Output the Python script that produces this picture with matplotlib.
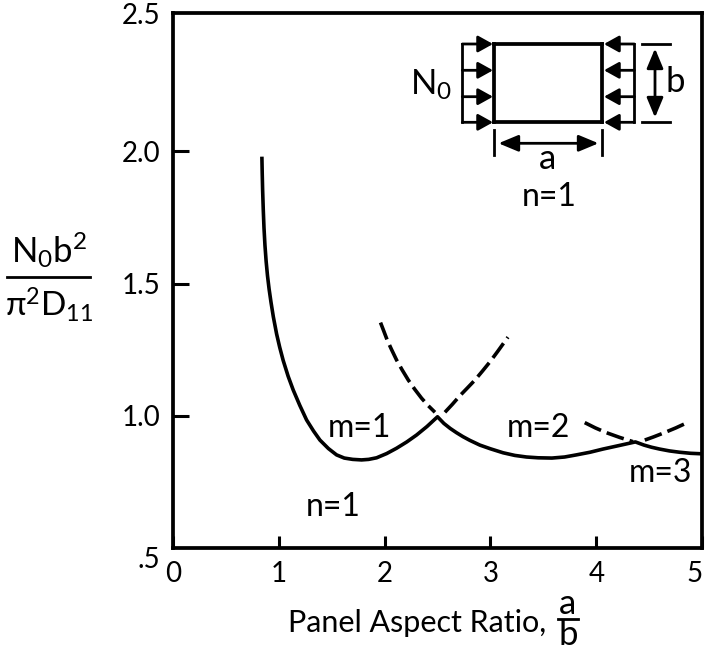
import matplotlib
matplotlib.use("Agg")
from matplotlib import pyplot as plt
from matplotlib.patches import FancyArrowPatch
from matplotlib.transforms import Affine2D

plt.rcParams['font.family'] = ['Lato', 'DejaVu Sans']
plt.rcParams['mathtext.fontset'] = 'custom'
plt.rcParams['mathtext.rm'] = 'Lato'
plt.rcParams['mathtext.it'] = 'Lato'
plt.rcParams['mathtext.bf'] = 'Lato'

# solid envelope
envelope_x = [0.842, 0.845, 0.849, 0.855, 0.862, 0.871, 0.882, 0.895, 0.91, 0.928, 0.95, 0.981, 1.01, 1.043, 1.09,
              1.138, 1.2, 1.264, 1.33, 1.39, 1.47, 1.547, 1.62, 1.70, 1.783, 1.85, 1.925, 2.02, 2.113,
              2.21, 2.302, 2.4, 2.5, 2.56, 2.62, 2.679, 2.74, 2.805, 2.9, 3.0, 3.119, 3.23, 3.34, 3.45,
              3.58, 3.70, 3.811, 3.94, 4.062, 4.21, 4.368, 4.45, 4.52, 4.597, 4.69, 4.786, 4.89, 5.0]
envelope_y = [1.98, 1.92, 1.854, 1.78, 1.71, 1.645, 1.585, 1.53, 1.48, 1.43, 1.375, 1.31, 1.26, 1.21, 1.15,
              1.098, 1.04, 0.985, 0.943, 0.909, 0.877, 0.853, 0.841, 0.836, 0.834, 0.836, 0.842, 0.858, 0.878,
              0.902, 0.928, 0.96, 0.997, 0.972, 0.953, 0.937, 0.922, 0.908, 0.89, 0.876, 0.861, 0.851, 0.845, 0.842,
              0.841, 0.845, 0.853, 0.863, 0.875, 0.888, 0.902, 0.89, 0.882, 0.875, 0.868, 0.863, 0.859, 0.857]

# dashed continuations past the crossings
m1_x = [1.962, 1.99, 2.025, 2.065, 2.113, 2.165, 2.224, 2.285, 2.35, 2.41, 2.476]
m1_y = [1.353, 1.324, 1.287, 1.252, 1.212, 1.175, 1.136, 1.101, 1.067, 1.04, 1.014]
m2_x = [2.57, 2.64, 2.71, 2.78, 2.854, 2.925, 2.996, 3.07, 3.165]
m2_y = [1.014, 1.044, 1.076, 1.105, 1.136, 1.17, 1.205, 1.245, 1.298]
m3_x = [3.89, 3.99, 4.094, 4.22, 4.345]
m3_y = [0.975, 0.955, 0.937, 0.919, 0.903]
m4_x = [4.457, 4.54, 4.63, 4.75, 4.875]
m4_y = [0.909, 0.921, 0.935, 0.955, 0.978]

x_ticks = [0, 1, 2, 3, 4, 5]
y_ticks = [1.0, 1.5, 2.0]
y_tick_labels = ["1.0", "1.5", "2.0"]

W, H = 708, 651
FONT = 20

fig = plt.figure(figsize=(W / 100, H / 100), dpi=100)
ax = fig.add_axes([172.7 / W, 1 - 548.3 / H, (702.3 - 172.7) / W, (548.3 - 12.7) / H])

ax.plot(envelope_x, envelope_y, color="black", lw=2.6, solid_capstyle="butt")
for xs, ys in [(m1_x, m1_y), (m2_x, m2_y), (m3_x, m3_y), (m4_x, m4_y)]:
    ax.plot(xs, ys, color="black", lw=2.6, dashes=(5, 1.7), dash_capstyle="butt")

ax.set_xlim(0, 5)
ax.set_ylim(0.5, 2.524)
ax.set_xticks(x_ticks)
ax.set_yticks(y_ticks)
ax.set_yticklabels(y_tick_labels)
ax.tick_params(axis="x", direction="in", length=8.4, width=2.2, labelsize=FONT, pad=9)
ax.tick_params(axis="y", direction="in", length=11.5, width=2.2, labelsize=FONT, pad=9)
for side in ax.spines:
    ax.spines[side].set_linewidth(2.7)
# last label would run off the image
ax.get_xticklabels()[-1].set_ha("right")

# everything below is placed in image pixels, y downwards
px = Affine2D().scale(1, -1).translate(0, H)


def label(x, y, s, size=FONT, ha="center", va="center"):
    fig.text(x, y, s, transform=px, fontsize=size, ha=ha, va=va, color="black")


def line(x0, y0, x1, y1, lw=2.0):
    fig.add_artist(plt.Line2D([x0, x1], [y0, y1], transform=px, color="black", lw=lw, solid_capstyle="projecting"))


def arrow(x0, y0, x1, y1, style):
    fig.add_artist(FancyArrowPatch((x0, y0), (x1, y1), transform=px, arrowstyle=style, color="black",
                                   lw=2.0, shrinkA=0, shrinkB=0, mutation_scale=1))


label(160, 16, "2.5", ha="right")
label(160, 560, ".5", ha="right")

# panel sketch
left, right, top, bottom = 494.3, 602.3, 44, 122.3
line(left, top, right, top, 2.7)
line(left, bottom, right, bottom, 2.7)
line(left, top, left, bottom, 2.7)
line(right, top, right, bottom, 2.7)
line(462.3, top, 462.3, bottom)
line(634.3, top, 634.3, bottom)
head = "-|>,head_length=9,head_width=5"
for y in [top, 70.3, 96.7, bottom]:
    arrow(462.3, y, 493, y, head)
    arrow(634.3, y, 604, y, head)

line(642, top, 670, top)
line(642, bottom, 670, bottom)
both = "<|-|>,head_length=12,head_width=5"
arrow(655, 48.5, 655, 117.5, both)
arrow(498.5, 143.3, 598.5, 143.3, both)
line(494.3, 130, 494.3, 155)
line(602.3, 130, 602.3, 155)

label(675, 82, "b", 25)
label(547.7, 159, "a", 25)
label(431, 85, r"$\mathrm{N_0}$", 25)
label(549, 197, "n=1", 23)

# curve labels
label(359, 428, "m=1", 23)
label(333, 507, "n=1", 23)
label(538, 428, "m=2", 23)
label(660, 473, "m=3", 23)

# y axis fraction
label(49, 262.7, r"$\mathrm{N_0b^2}$", 25, va="baseline")
line(7, 277, 90, 277)
label(49, 316.7, r"$\mathrm{\pi^2D_{11}}$", 24, va="baseline")

# x axis title
label(288, 631.7, "Panel Aspect Ratio,", 22, ha="left", va="baseline")
label(568, 604, "a", 25)
line(558, 619, 578, 619)
label(568, 635, "b", 25)

fig.savefig("out.png", dpi=100)
